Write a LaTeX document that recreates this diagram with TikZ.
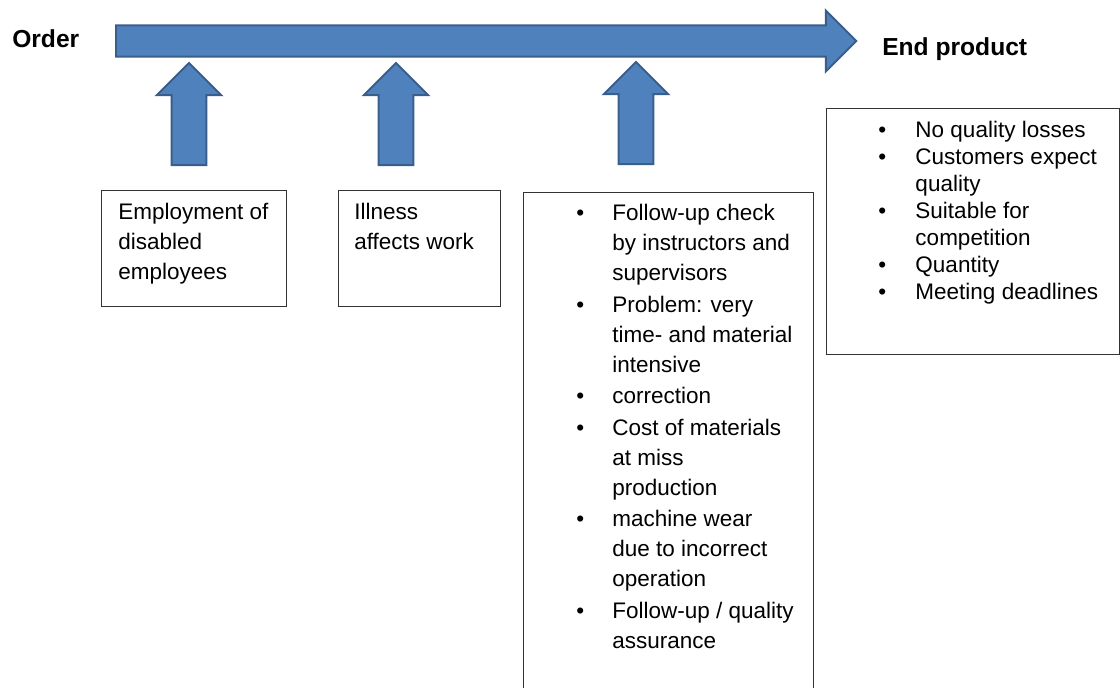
\documentclass[tikz,border=0pt]{standalone}
\usepackage{fontspec}
\setmainfont{Liberation Sans}
\usepackage{xcolor}
\usetikzlibrary{positioning, shapes.arrows}

\definecolor{flowfill}{HTML}{4F81BD}
\definecolor{flowedge}{HTML}{3A5E8C}

% bullet column for the item lists
\newcommand{\bul}[1][0.9cm]{\makebox[#1][l]{\textbullet}}
\newcommand{\ind}[1][0.9cm]{\hspace*{#1}}

\begin{document}
\begin{tikzpicture}[
  x=0.025cm, y=-0.025cm,
  blockarrow/.style = {
    single arrow, draw=flowedge, fill=flowfill,
    line width=1.4pt, single arrow head extend=0.37cm,
    single arrow tip angle=90},
  framebox/.style = {
    rectangle, draw=black!80, line width=0.9pt,
    anchor=north west, inner sep=0pt},
  boxtext/.style = {
    anchor=north west, inner sep=0pt, align=left,
    font=\fontsize{16}{21.3}\selectfont},
  title/.style = {
    anchor=base west, inner sep=0pt,
    font=\fontsize{17.5}{20}\selectfont\bfseries}
]
\useasboundingbox (0,0) rectangle (1120,687);

%── Main flow ────────────────────────────────────────────────────
\node[title] (order) at (12,47) {Order};
\node[title] (endprod) at (882,55) {End product};

\node[blockarrow, anchor=tail, inner sep=0.365cm,
  minimum height=18.5cm] (flow) at (115,41) {};

%── Influences pushing on the flow ───────────────────────────────
\node[blockarrow, shape border rotate=90, anchor=tail,
  inner sep=0.41cm, minimum height=2.55cm] (pushemp) at (189,166) {};
\node[blockarrow, shape border rotate=90, anchor=tail,
  inner sep=0.41cm, minimum height=2.55cm] (pushill) at (396,166) {};
\node[blockarrow, shape border rotate=90, anchor=tail,
  inner sep=0.41cm, minimum height=2.55cm] (pushchk) at (636,165) {};

%── Influence boxes ──────────────────────────────────────────────
\node[framebox, minimum width=4.625cm, minimum height=2.9cm]
  (empbox) at (101,190) {};
\node[boxtext] (emptext) at (118,203)
  {Employment of\\disabled\\employees};

\node[framebox, minimum width=4.05cm, minimum height=2.9cm]
  (illbox) at (338,190) {};
\node[boxtext] (illtext) at (354,203)
  {Illness\\affects work};

\node[framebox, minimum width=7.25cm, minimum height=13cm]
  (chkbox) at (523,192) {};
\node[boxtext] (chktext) at (576,204)
  {\bul Follow-up check\\
   \ind by instructors and\\
   \ind supervisors\\[1.2pt]
   \bul Problem: very\\
   \ind time- and material\\
   \ind intensive\\[1.2pt]
   \bul correction\\[1.2pt]
   \bul Cost of materials\\
   \ind at miss\\
   \ind production\\[1.2pt]
   \bul machine wear\\
   \ind due to incorrect\\
   \ind operation\\[1.2pt]
   \bul Follow-up / quality\\
   \ind assurance};

%── End product requirements ─────────────────────────────────────
\node[framebox, minimum width=7.325cm, minimum height=6.15cm]
  (endbox) at (826,108) {};
\node[boxtext, font=\fontsize{16}{19.2}\selectfont] (endtext) at (878,121)
  {\bul[0.93cm]No quality losses\\
   \bul[0.93cm]Customers expect\\
   \ind[0.93cm]quality\\
   \bul[0.93cm]Suitable for\\
   \ind[0.93cm]competition\\
   \bul[0.93cm]Quantity\\
   \bul[0.93cm]Meeting deadlines};

\end{tikzpicture}
\end{document}
